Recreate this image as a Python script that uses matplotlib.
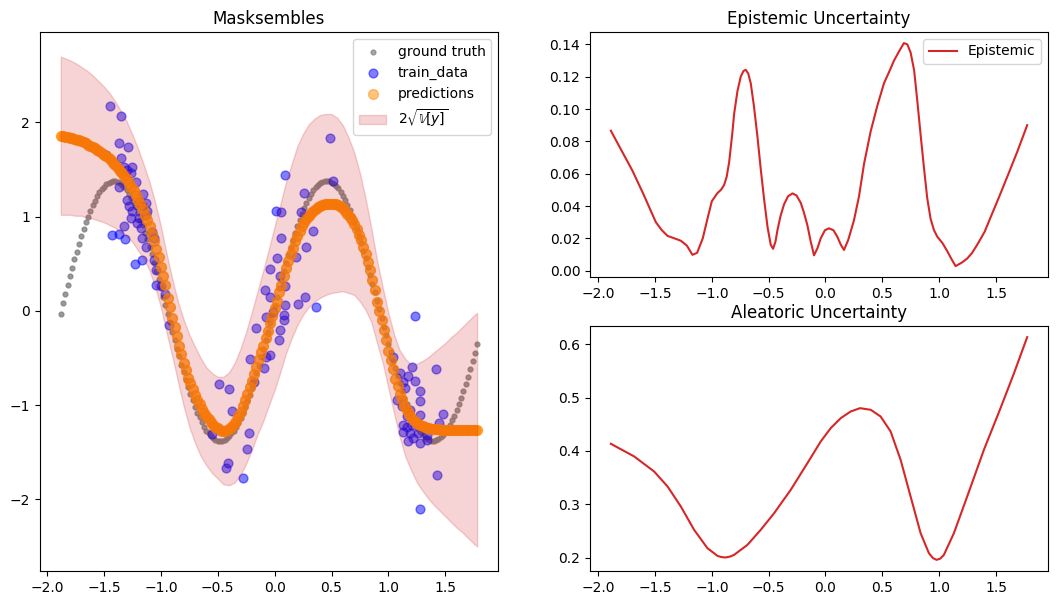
import numpy as np
import matplotlib.pyplot as plt

# x grid shared by the ground truth and the predictions (184 points)
x_grid = np.linspace(-1.88, 1.78, 184)

# ground truth
gt_y = [-0.03, 0.08, 0.18, 0.28, 0.37, 0.46, 0.55, 0.63, 0.71, 0.79,
        0.87, 0.94, 1.00, 1.06, 1.12, 1.17, 1.22, 1.26, 1.29, 1.32,
        1.35, 1.36, 1.37, 1.38, 1.38, 1.37, 1.36, 1.34, 1.31, 1.28,
        1.24, 1.20, 1.15, 1.10, 1.04, 0.97, 0.91, 0.83, 0.76, 0.68,
        0.60, 0.51, 0.42, 0.34, 0.25, 0.15, 0.06, -0.03, -0.12, -0.22,
        -0.31, -0.40, -0.48, -0.57, -0.65, -0.73, -0.81, -0.88, -0.95, -1.02,
        -1.08, -1.13, -1.18, -1.23, -1.27, -1.30, -1.33, -1.35, -1.37, -1.38,
        -1.38, -1.38, -1.37, -1.35, -1.33, -1.30, -1.27, -1.23, -1.19, -1.14,
        -1.08, -1.02, -0.96, -0.89, -0.82, -0.74, -0.66, -0.58, -0.49, -0.40,
        -0.31, -0.22, -0.13, -0.04, 0.05, 0.15, 0.24, 0.33, 0.42, 0.51,
        0.59, 0.67, 0.75, 0.83, 0.90, 0.97, 1.03, 1.09, 1.15, 1.20,
        1.24, 1.28, 1.31, 1.34, 1.36, 1.37, 1.38, 1.38, 1.38, 1.36,
        1.35, 1.33, 1.30, 1.26, 1.22, 1.18, 1.12, 1.07, 1.01, 0.94,
        0.87, 0.80, 0.72, 0.64, 0.56, 0.47, 0.38, 0.29, 0.20, 0.11,
        0.02, -0.08, -0.17, -0.26, -0.35, -0.44, -0.53, -0.61, -0.69, -0.77,
        -0.85, -0.92, -0.99, -1.05, -1.11, -1.16, -1.21, -1.25, -1.29, -1.32,
        -1.34, -1.36, -1.37, -1.38, -1.38, -1.37, -1.36, -1.34, -1.32, -1.29,
        -1.25, -1.21, -1.16, -1.11, -1.05, -0.99, -0.92, -0.85, -0.78, -0.70,
        -0.62, -0.53, -0.45, -0.35]

# predicted mean (orange dots)
pred_y = [1.86, 1.855, 1.85, 1.845, 1.84, 1.83, 1.825, 1.815, 1.81, 1.80,
          1.79, 1.78, 1.765, 1.755, 1.74, 1.73, 1.71, 1.695, 1.68, 1.66,
          1.64, 1.62, 1.60, 1.575, 1.55, 1.52, 1.49, 1.46, 1.43, 1.40,
          1.36, 1.32, 1.28, 1.23, 1.18, 1.13, 1.08, 1.02, 0.96, 0.90,
          0.82, 0.74, 0.66, 0.57, 0.47, 0.37, 0.27, 0.14, 0.04, -0.07,
          -0.17, -0.27, -0.37, -0.46, -0.55, -0.63, -0.71, -0.77, -0.83, -0.89,
          -0.94, -0.99, -1.04, -1.08, -1.12, -1.15, -1.18, -1.21, -1.23, -1.24,
          -1.26, -1.27, -1.27, -1.265, -1.25, -1.23, -1.20, -1.17, -1.12, -1.07,
          -1.01, -0.95, -0.88, -0.81, -0.74, -0.67, -0.59, -0.51, -0.44, -0.37,
          -0.29, -0.21, -0.13, -0.05, 0.03, 0.11, 0.20, 0.28, 0.37, 0.46,
          0.53, 0.60, 0.67, 0.74, 0.80, 0.85, 0.90, 0.94, 0.98, 1.01,
          1.04, 1.06, 1.08, 1.10, 1.11, 1.12, 1.13, 1.135, 1.14, 1.14,
          1.14, 1.13, 1.12, 1.10, 1.09, 1.06, 1.03, 1.00, 0.96, 0.92,
          0.87, 0.81, 0.75, 0.68, 0.60, 0.52, 0.43, 0.33, 0.22, 0.10,
          0.00, -0.10, -0.20, -0.31, -0.42, -0.52, -0.62, -0.72, -0.80, -0.88,
          -0.95, -1.01, -1.05, -1.09, -1.13, -1.16, -1.18, -1.20, -1.21, -1.22,
          -1.23, -1.24, -1.24, -1.25, -1.25, -1.25, -1.255, -1.26, -1.26, -1.26,
          -1.26, -1.26, -1.26, -1.26, -1.26, -1.26, -1.26, -1.26, -1.26, -1.26,
          -1.26, -1.26, -1.26, -1.26]

# uncertainty band edges (mean +/- 2 std)
band_x = [-1.88, -1.80, -1.75, -1.70, -1.65, -1.60, -1.55, -1.50, -1.45, -1.40,
          -1.35, -1.30, -1.25, -1.20, -1.15, -1.10, -1.05, -1.00, -0.95, -0.90,
          -0.85, -0.80, -0.75, -0.70, -0.65, -0.60, -0.55, -0.50, -0.45, -0.40,
          -0.35, -0.30, -0.25, -0.20, -0.15, -0.10, -0.05, 0.00, 0.05, 0.10,
          0.15, 0.20, 0.25, 0.30, 0.35, 0.40, 0.45, 0.50, 0.55, 0.60,
          0.65, 0.70, 0.75, 0.80, 0.85, 0.90, 0.95, 1.00, 1.05, 1.10,
          1.15, 1.20, 1.25, 1.30, 1.35, 1.40, 1.45, 1.50, 1.55, 1.60,
          1.65, 1.70, 1.75, 1.78]
band_upper = [2.70, 2.66, 2.63, 2.59, 2.55, 2.50, 2.44, 2.38, 2.31, 2.22,
              2.12, 2.01, 1.87, 1.72, 1.55, 1.37, 1.15, 0.90, 0.61, 0.34,
              0.10, -0.09, -0.25, -0.38, -0.50, -0.60, -0.66, -0.70, -0.70, -0.65,
              -0.55, -0.40, -0.22, -0.01, 0.21, 0.43, 0.66, 0.90, 1.13, 1.37,
              1.56, 1.75, 1.88, 1.98, 2.04, 2.08, 2.09, 2.09, 2.05, 1.97,
              1.84, 1.68, 1.46, 1.19, 0.88, 0.54, 0.25, -0.02, -0.25, -0.42,
              -0.51, -0.57, -0.56, -0.53, -0.49, -0.44, -0.39, -0.34, -0.28, -0.23,
              -0.17, -0.11, -0.05, -0.02]
band_lower = [1.02, 1.02, 1.01, 1.01, 0.99, 0.98, 0.96, 0.94, 0.91, 0.88,
              0.83, 0.79, 0.73, 0.64, 0.55, 0.43, 0.25, 0.04, -0.23, -0.48,
              -0.75, -1.01, -1.23, -1.40, -1.54, -1.64, -1.72, -1.78, -1.84, -1.85,
              -1.82, -1.74, -1.62, -1.47, -1.31, -1.17, -1.00, -0.84, -0.65, -0.45,
              -0.29, -0.15, -0.04, 0.04, 0.10, 0.14, 0.17, 0.19, 0.20, 0.21,
              0.19, 0.17, 0.10, 0.01, -0.12, -0.34, -0.55, -0.82, -1.09, -1.34,
              -1.55, -1.69, -1.82, -1.91, -1.99, -2.06, -2.12, -2.18, -2.24, -2.30,
              -2.35, -2.41, -2.47, -2.50]

# training points (blue)
train_x = [-1.447, -1.347, -1.368, -1.286, -1.485, -1.353, -1.324, -1.25, -1.295, -1.265,
           -1.220, -1.368, -1.153, -1.295, -1.191, -1.132, -1.280, -1.162, -1.250, -1.118,
           -1.132, -1.265, -1.191, -1.206, -1.324, -1.176, -1.074, -1.432, -1.368, -1.315,
           -1.168, -1.059, -1.132, -1.162, -1.227, -1.059, -1.044, -1.039, -1.0, -0.966,
           0.087, 0.484, 0.513, 0.258, 0.014, 0.058, 0.235, 0.337, 0.058, 0.279,
           0.019, 0.184, -0.039, 0.043, -0.081, 0.087, -0.045, 0.270, 0.205, 0.087,
           0.361, -0.927, -0.486, -0.404, -0.377, -0.550, -0.228, -0.245, -0.413, -0.427,
           -0.280, -0.168, -0.221, -0.183, -0.095, -0.074, -0.045, 0.034, 0.049, 0.081,
           0.081, -0.016, -0.074, 1.234, 1.419, 1.210, 1.175, 1.234, 1.278, 1.278,
           1.101, 1.131, 1.145, 1.072, 1.116, 1.483, 1.448, 1.278, 1.190, 1.160,
           1.131, 1.160, 1.204, 1.131, 1.190, 1.263, 1.337, 1.175, 1.278, 1.342,
           1.219, 1.425, 1.278, 1.042]
train_y = [2.18, 2.07, 1.78, 1.74, 1.66, 1.62, 1.53, 1.53, 1.50, 1.46,
           1.37, 1.31, 1.24, 1.18, 1.16, 1.15, 1.11, 1.11, 1.06, 1.06,
           1.02, 0.99, 0.99, 0.93, 0.90, 0.88, 0.84, 0.81, 0.82, 0.76,
           0.77, 0.77, 0.68, 0.54, 0.50, 0.54, 0.43, 0.28, 0.26, 0.18,
           1.44, 1.84, 1.38, 1.25, 1.06, 1.05, 1.05, 0.85, 0.77, 0.68,
           0.56, 0.57, 0.44, 0.37, 0.22, 0.26, 0.15, 0.15, 0.07, 0.06,
           0.04, -0.15, -0.78, -0.83, -1.06, -1.31, -1.30, -1.46, -1.61, -1.67,
           -1.77, -0.18, -0.51, -0.75, -0.61, -0.49, -0.47, -0.31, -0.20, -0.10,
           -0.04, -0.01, -0.06, -0.05, -0.62, -0.59, -0.69, -0.74, -0.85, -0.96,
           -0.66, -0.75, -0.82, -0.94, -1.01, -1.09, -1.19, -1.10, -1.05, -1.12,
           -1.21, -1.23, -1.21, -1.28, -1.30, -1.30, -1.32, -1.38, -1.40, -1.37,
           -1.35, -1.74, -2.10, -0.49]

# epistemic uncertainty curve
epi_x = [-1.889, -1.80, -1.70, -1.60, -1.493, -1.44, -1.39, -1.33, -1.273, -1.22,
         -1.171, -1.13, -1.08, -1.039, -1.00, -0.951, -0.92, -0.892, -0.87, -0.848,
         -0.82, -0.804, -0.775, -0.746, -0.722, -0.702, -0.68, -0.658, -0.63, -0.599,
         -0.57, -0.540, -0.51, -0.482, -0.461, -0.44, -0.423, -0.395, -0.365, -0.33,
         -0.291, -0.255, -0.218, -0.19, -0.159, -0.13, -0.101, -0.07, -0.042, -0.005,
         0.031, 0.07, 0.104, 0.135, 0.163, 0.20, 0.25, 0.295, 0.339, 0.397,
         0.456, 0.515, 0.56, 0.603, 0.65, 0.69, 0.72, 0.749, 0.78, 0.808,
         0.84, 0.866, 0.895, 0.925, 0.955, 0.984, 1.03, 1.072, 1.11, 1.145,
         1.20, 1.247, 1.29, 1.335, 1.40, 1.453, 1.53, 1.599, 1.69, 1.775]
epi_y = [0.0866, 0.075, 0.062, 0.047, 0.030, 0.025, 0.0215, 0.020, 0.0185, 0.0155,
         0.0098, 0.011, 0.020, 0.032, 0.043, 0.048, 0.050, 0.053, 0.058, 0.067,
         0.085, 0.097, 0.111, 0.120, 0.1235, 0.1243, 0.122, 0.116, 0.102, 0.083,
         0.063, 0.044, 0.027, 0.016, 0.0135, 0.018, 0.025, 0.034, 0.041, 0.046,
         0.0478, 0.0465, 0.042, 0.036, 0.028, 0.018, 0.0095, 0.014, 0.020, 0.025,
         0.0262, 0.025, 0.021, 0.016, 0.0128, 0.019, 0.031, 0.046, 0.066, 0.086,
         0.102, 0.116, 0.123, 0.130, 0.136, 0.1408, 0.140, 0.135, 0.124, 0.105,
         0.082, 0.064, 0.045, 0.032, 0.025, 0.021, 0.017, 0.012, 0.007, 0.0028,
         0.0050, 0.0075, 0.011, 0.016, 0.024, 0.033, 0.046, 0.058, 0.074, 0.090]

# aleatoric uncertainty curve
alea_x = [-1.889, -1.683, -1.508, -1.390, -1.273, -1.156, -1.039, -0.951, -0.92, -0.883,
          -0.84, -0.804, -0.687, -0.570, -0.452, -0.306, -0.159, -0.042, 0.046, 0.134,
          0.222, 0.304, 0.398, 0.485, 0.573, 0.661, 0.749, 0.837, 0.910, 0.945,
          0.978, 1.01, 1.042, 1.130, 1.247, 1.394, 1.540, 1.658, 1.775]
alea_y = [0.4134, 0.3896, 0.3615, 0.3335, 0.2960, 0.2523, 0.2180, 0.2036, 0.2015, 0.2005,
          0.2022, 0.2055, 0.2242, 0.2523, 0.2835, 0.3272, 0.3772, 0.4177, 0.4427, 0.4614,
          0.4739, 0.4801, 0.4770, 0.4645, 0.4365, 0.3834, 0.3147, 0.2461, 0.2086, 0.1995,
          0.1961, 0.1985, 0.2055, 0.2461, 0.3147, 0.4021, 0.4800, 0.5450, 0.6131]


def main():
    fig = plt.figure(figsize=(10.57, 6.05), dpi=100)
    ax = fig.add_axes([0.0378, 0.0562, 0.4333, 0.8909])
    ax_epi = fig.add_axes([0.5582, 0.5417, 0.4333, 0.4055])
    ax_alea = fig.add_axes([0.5582, 0.0562, 0.4333, 0.405])

    # left panel: data, predictions and the band drawn on top
    ax.scatter(x_grid, gt_y, s=12, color='gray', alpha=0.8, label='ground truth')
    ax.scatter(train_x, train_y, s=40, color='blue', alpha=0.5, label='train_data')
    ax.scatter(x_grid, pred_y, s=50, color='darkorange', alpha=0.75, label='predictions')
    ax.fill_between(band_x, band_lower, band_upper, color='tab:red', alpha=0.2,
                    label=r'$2\sqrt{\mathbb{V}[y]}$')
    ax.set_title('Masksembles')
    leg = ax.legend(loc='upper right')
    # lighter markers in the legend, like single points
    leg.legend_handles[0].set_alpha(0.7)
    leg.legend_handles[2].set_alpha(0.5)

    # right panels
    ax_epi.plot(epi_x, epi_y, color='tab:red', label='Epistemic')
    ax_epi.set_title('Epistemic Uncertainty')
    ax_epi.legend(loc='upper right')

    ax_alea.plot(alea_x, alea_y, color='tab:red')
    ax_alea.set_title('Aleatoric Uncertainty')

    fig.savefig('out.png', dpi=100)


if __name__ == "__main__":
    main()
